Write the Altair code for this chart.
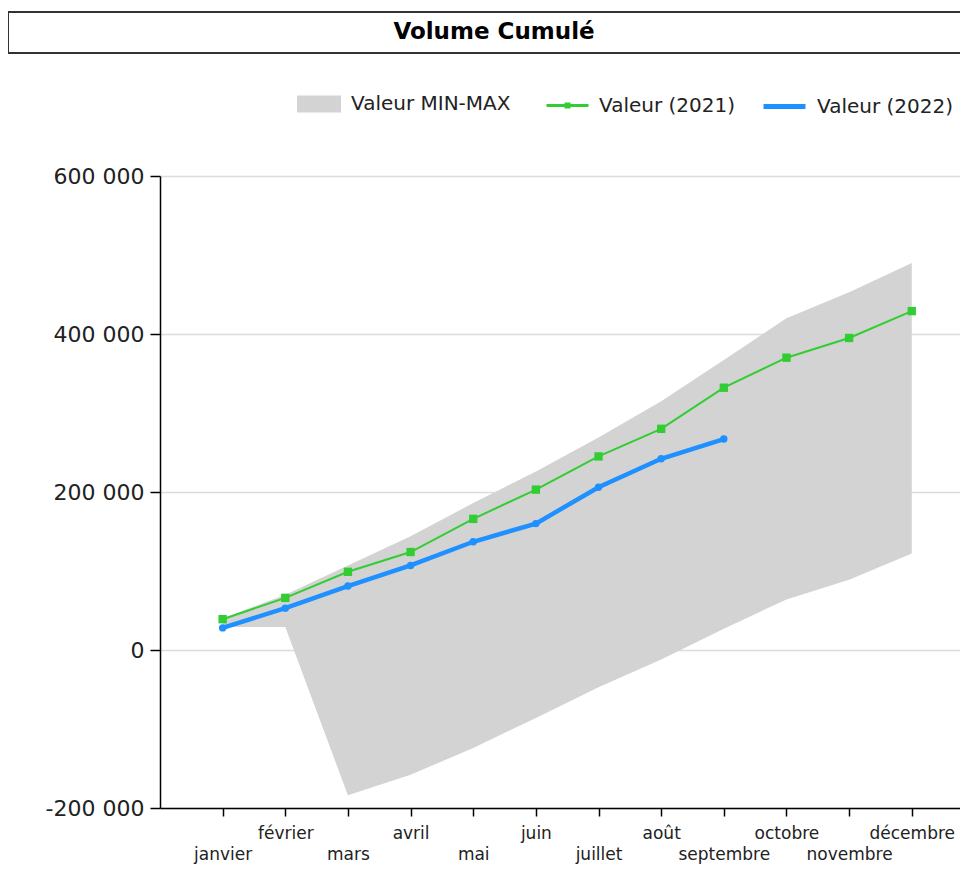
import altair as alt
import pandas as pd

TITLE = "Volume Cumulé"
MONTHS = ["janvier", "février", "mars", "avril", "mai", "juin", "juillet",
          "août", "septembre", "octobre", "novembre", "décembre"]
VAL_2021 = [39000, 66000, 99000, 124000, 166000, 203000, 245000, 280000,
            332000, 370000, 395000, 429000]
VAL_2022 = [28000, 53000, 81000, 107000, 137000, 160000, 206000, 242000, 267000]
MIN_VAL = [29000, 29000, -184000, -158000, -124000, -86000, -47000, -12000,
           27000, 64000, 89000, 122000]
MAX_VAL = [40000, 70000, 107000, 144000, 186000, 226000, 269000, 315000,
           367000, 420000, 453000, 490000]
LABEL_RANGE = "Valeur MIN-MAX"
LABEL_2021 = "Valeur (2021)"
LABEL_2022 = "Valeur (2022)"
Y_TICKS = [-200000, 0, 200000, 400000, 600000]

GREEN = "#32cd32"
BLUE = "#1e90ff"
GREY = "#d3d3d3"
TEXT = "#222222"
FONT = "DejaVu Sans"

idx = list(range(1, len(MONTHS) + 1))
range_df = pd.DataFrame({"m": idx, "lo": MIN_VAL, "hi": MAX_VAL, "s": LABEL_RANGE})
df21 = pd.DataFrame({"m": idx, "v": VAL_2021, "s": LABEL_2021})
df22 = pd.DataFrame({"m": idx[:len(VAL_2022)], "v": VAL_2022, "s": LABEL_2022})

arr = "[" + ",".join("'" + m + "'" for m in MONTHS) + "]"
x_label_expr = f"datum.value % 2 == 1 ? [' ', {arr}[datum.value - 1]] : {arr}[datum.value - 1]"
y_label_expr = "(datum.value < 0 ? '-' : '') + replace(format(abs(datum.value), ','), /,/g, ' ')"

x_axis = alt.Axis(values=idx, title=None, grid=False, tickSize=8, tickColor="black",
                  tickWidth=1.5, domainColor="black", domainWidth=1.5,
                  labelFont=FONT, labelFontSize=17, labelColor=TEXT, labelPadding=9,
                  labelLineHeight=21, labelExpr=x_label_expr, labelOverlap=False,
                  labelFlush=False)
y_axis = alt.Axis(values=Y_TICKS, title=None, grid=True, gridColor="#dcdcdc",
                  gridWidth=1.5, tickSize=10, tickColor="black", tickWidth=1.5,
                  domainColor="black", domainWidth=1.5, labelFont=FONT,
                  labelFontSize=22, labelColor=TEXT, labelPadding=6,
                  labelExpr=y_label_expr)

x_scale = alt.Scale(domain=[0, 12.77], nice=False, zero=False)
y_scale = alt.Scale(domain=[-200000, 600000], nice=False)

x_enc = alt.X("m:Q", scale=x_scale, axis=x_axis)

title_data = alt.Data(values=[{"t": TITLE}])
frame = alt.Chart(title_data).mark_rect(filled=False, stroke="#333333", strokeWidth=2).encode(
    x=alt.value(-152), x2=alt.value(830), y=alt.value(-164), y2=alt.value(-123))
title_text = alt.Chart(title_data).mark_text(
    font=FONT, fontSize=23, fontWeight="bold", align="center", baseline="middle",
    color="black").encode(x=alt.value(334), y=alt.value(-144), text="t:N")

area = alt.Chart(range_df).mark_area(opacity=1).encode(
    x=x_enc,
    y=alt.Y("lo:Q", scale=y_scale, axis=y_axis),
    y2="hi:Q",
    fill=alt.Fill("s:N", scale=alt.Scale(domain=[LABEL_RANGE], range=[GREY]),
                  legend=alt.Legend(orient="none", legendX=137, legendY=-94, title=None,
                                    symbolType="M-1,-0.386H1V0.386H-1Z", symbolSize=1936,
                                    symbolStrokeWidth=0, symbolOpacity=1, labelOffset=10,
                                    labelFont=FONT, labelFontSize=20, labelColor=TEXT,
                                    padding=0)),
)

line21 = alt.Chart(df21).mark_line(strokeWidth=2).encode(
    x=x_enc,
    y=alt.Y("v:Q", scale=y_scale, axis=y_axis),
    stroke=alt.Stroke("s:N", scale=alt.Scale(domain=[LABEL_2021], range=[GREEN]),
                      legend=alt.Legend(orient="none", legendX=385, legendY=-93, title=None,
                                        symbolType="M-1,0H1M-0.07,-0.07H0.07V0.07H-0.07Z",
                                        symbolSize=1764, symbolStrokeWidth=3,
                                        symbolFillColor=GREEN, labelOffset=9,
                                        labelFont=FONT, labelFontSize=20, labelColor=TEXT,
                                        padding=0)),
)
pts21 = alt.Chart(df21).mark_point(shape="square", filled=True, size=70, color=GREEN,
                                   opacity=1).encode(
    x=x_enc, y=alt.Y("v:Q", scale=y_scale, axis=y_axis))

line22 = alt.Chart(df22).mark_line(strokeWidth=4.5).encode(
    x=x_enc,
    y=alt.Y("v:Q", scale=y_scale, axis=y_axis),
    stroke=alt.Stroke("s:N", scale=alt.Scale(domain=[LABEL_2022], range=[BLUE]),
                      legend=alt.Legend(orient="none", legendX=601, legendY=-93, title=None,
                                        symbolType="M-1,0H1", symbolSize=1764,
                                        symbolStrokeWidth=5, labelOffset=9,
                                        labelFont=FONT, labelFontSize=20, labelColor=TEXT,
                                        padding=0)),
)
pts22 = alt.Chart(df22).mark_point(shape="circle", filled=True, size=55, color=BLUE,
                                   opacity=1).encode(
    x=x_enc, y=alt.Y("v:Q", scale=y_scale, axis=y_axis))

chart = alt.layer(frame, title_text, area, line21, pts21, line22, pts22).resolve_scale(
    stroke="independent", fill="independent"
).properties(
    width=800, height=632,
    autosize=alt.AutoSizeParams(type="none"),
    padding={"left": 152, "top": 168, "right": 0, "bottom": 58},
).configure_view(stroke=None)

chart.save("out.html", embed_options={"renderer": "svg", "actions": False})
